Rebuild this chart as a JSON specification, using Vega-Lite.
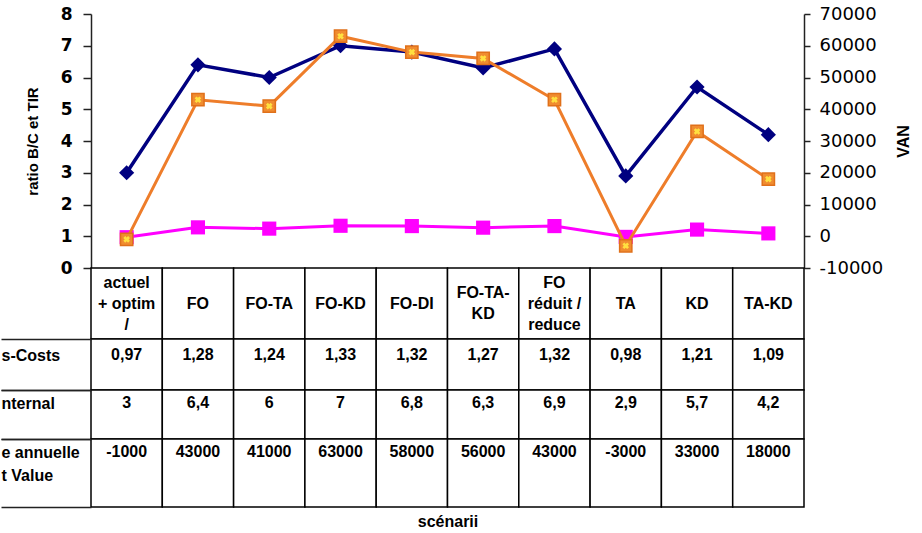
{
  "$schema": "https://vega.github.io/schema/vega-lite/v6.json",
  "padding": {"left": 0, "top": 5, "right": 0, "bottom": 0},
  "data": {"values": [
    {"scenario": "actuel\n+ optim\n/", "bc": 0.97, "tir": 3, "van": -1000},
    {"scenario": "FO", "bc": 1.28, "tir": 6.4, "van": 43000},
    {"scenario": "FO-TA", "bc": 1.24, "tir": 6, "van": 41000},
    {"scenario": "FO-KD", "bc": 1.33, "tir": 7, "van": 63000},
    {"scenario": "FO-DI", "bc": 1.32, "tir": 6.8, "van": 58000},
    {"scenario": "FO-TA-\nKD", "bc": 1.27, "tir": 6.3, "van": 56000},
    {"scenario": "FO\nréduit /\nreduce", "bc": 1.32, "tir": 6.9, "van": 43000},
    {"scenario": "TA", "bc": 0.98, "tir": 2.9, "van": -3000},
    {"scenario": "KD", "bc": 1.21, "tir": 5.7, "van": 33000},
    {"scenario": "TA-KD", "bc": 1.09, "tir": 4.2, "van": 18000}
  ]},
  "spacing": 0,
  "bounds": "flush",
  "resolve": {"scale": {"x": "independent", "y": "independent"}},
  "vconcat": [
    {
      "width": 713,
      "height": 254,
      "encoding": {
        "x": {"field": "scenario", "type": "nominal", "sort": null, "scale": {"paddingInner": 0, "paddingOuter": 0}, "axis": null}
      },
      "layer": [
        {
          "layer": [
            {
              "mark": {"type": "line", "color": "#000080", "strokeWidth": 3.5},
              "encoding": {"y": {"field": "tir", "type": "quantitative", "scale": {"domain": [0, 8], "nice": false, "zero": false},
                "axis": {"orient": "left", "title": "ratio B/C et TIR", "values": [0,1,2,3,4,5,6,7,8], "tickSize": 8, "labelPadding": 11, "labelFont": "DejaVu Sans", "labelFontWeight": "bold", "labelFontSize": 17, "titleFont": "Liberation Sans", "titleFontWeight": "bold", "titleFontSize": 15, "titlePadding": 20, "domainWidth": 1.5, "tickWidth": 1.5}}}
            },
            {
              "mark": {"type": "point", "shape": "diamond", "filled": true, "color": "#000080", "size": 230, "opacity": 1},
              "encoding": {"y": {"field": "tir", "type": "quantitative", "scale": {"domain": [0, 8], "nice": false, "zero": false},
                "axis": {"orient": "left", "title": "ratio B/C et TIR", "values": [0,1,2,3,4,5,6,7,8], "tickSize": 8, "labelPadding": 11, "labelFont": "DejaVu Sans", "labelFontWeight": "bold", "labelFontSize": 17, "titleFont": "Liberation Sans", "titleFontWeight": "bold", "titleFontSize": 15, "titlePadding": 20, "domainWidth": 1.5, "tickWidth": 1.5}}}
            },
            {
              "mark": {"type": "line", "color": "#FF00FF", "strokeWidth": 3},
              "encoding": {"y": {"field": "bc", "type": "quantitative", "scale": {"domain": [0, 8], "nice": false, "zero": false},
                "axis": {"orient": "left", "title": "ratio B/C et TIR", "values": [0,1,2,3,4,5,6,7,8], "tickSize": 8, "labelPadding": 11, "labelFont": "DejaVu Sans", "labelFontWeight": "bold", "labelFontSize": 17, "titleFont": "Liberation Sans", "titleFontWeight": "bold", "titleFontSize": 15, "titlePadding": 20, "domainWidth": 1.5, "tickWidth": 1.5}}}
            },
            {
              "mark": {"type": "point", "shape": "square", "filled": true, "color": "#FF00FF", "size": 200, "opacity": 1},
              "encoding": {"y": {"field": "bc", "type": "quantitative", "scale": {"domain": [0, 8], "nice": false, "zero": false},
                "axis": {"orient": "left", "title": "ratio B/C et TIR", "values": [0,1,2,3,4,5,6,7,8], "tickSize": 8, "labelPadding": 11, "labelFont": "DejaVu Sans", "labelFontWeight": "bold", "labelFontSize": 17, "titleFont": "Liberation Sans", "titleFontWeight": "bold", "titleFontSize": 15, "titlePadding": 20, "domainWidth": 1.5, "tickWidth": 1.5}}}
            }
          ]
        },
        {
          "layer": [
            {
              "mark": {"type": "line", "color": "#EE7D2A", "strokeWidth": 3},
              "encoding": {"y": {"field": "van", "type": "quantitative", "scale": {"domain": [-10000, 70000], "nice": false, "zero": false},
                "axis": {"orient": "right", "title": "VAN", "titleAngle": -90, "values": [-10000,0,10000,20000,30000,40000,50000,60000,70000], "format": "d", "tickSize": 6, "labelPadding": 9, "labelFont": "DejaVu Sans", "labelFontSize": 18, "titleFont": "Liberation Sans", "titleFontWeight": "bold", "titleFontSize": 16, "titlePadding": 29, "domainWidth": 1.5, "tickWidth": 1.5}}}
            },
            {
              "mark": {"type": "point", "shape": "square", "filled": true, "color": "#F08C30", "stroke": "#E0701A", "strokeWidth": 1.5, "size": 150, "opacity": 1},
              "encoding": {"y": {"field": "van", "type": "quantitative", "scale": {"domain": [-10000, 70000], "nice": false, "zero": false},
                "axis": {"orient": "right", "title": "VAN", "titleAngle": -90, "values": [-10000,0,10000,20000,30000,40000,50000,60000,70000], "format": "d", "tickSize": 6, "labelPadding": 9, "labelFont": "DejaVu Sans", "labelFontSize": 18, "titleFont": "Liberation Sans", "titleFontWeight": "bold", "titleFontSize": 16, "titlePadding": 29, "domainWidth": 1.5, "tickWidth": 1.5}}}
            },
            {
              "mark": {"type": "point", "shape": "cross", "angle": 45, "filled": true, "color": "#FFE040", "size": 45, "opacity": 1},
              "encoding": {"y": {"field": "van", "type": "quantitative", "scale": {"domain": [-10000, 70000], "nice": false, "zero": false},
                "axis": {"orient": "right", "title": "VAN", "titleAngle": -90, "values": [-10000,0,10000,20000,30000,40000,50000,60000,70000], "format": "d", "tickSize": 6, "labelPadding": 9, "labelFont": "DejaVu Sans", "labelFontSize": 18, "titleFont": "Liberation Sans", "titleFontWeight": "bold", "titleFontSize": 16, "titlePadding": 29, "domainWidth": 1.5, "tickWidth": 1.5}}}
            }
          ]
        }
      ],
      "resolve": {"scale": {"y": "independent"}}
    },
    {
      "width": 713,
      "height": 71,
      "encoding": {
        "x": {"field": "scenario", "type": "nominal", "sort": null, "scale": {"paddingInner": 0, "paddingOuter": 0}, "axis": null},
        "y": {"datum": "h", "type": "nominal", "scale": {"paddingInner": 0, "paddingOuter": 0}, "axis": null}
      },
      "layer": [
        {"mark": {"type": "rect", "fill": "white", "stroke": "black", "strokeWidth": 1.5}},
        {"transform": [{"filter": {"not": {"field": "scenario", "oneOf": ["actuel\n+ optim\n/", "FO-TA-\nKD", "FO\nréduit /\nreduce"]}}}],
         "mark": {"type": "text", "font": "Liberation Sans", "fontWeight": "bold", "fontSize": 16, "color": "black"},
         "encoding": {"text": {"field": "scenario", "type": "nominal"}}},
        {"transform": [{"filter": {"field": "scenario", "equal": "FO-TA-\nKD"}}],
         "mark": {"type": "text", "lineBreak": "\n", "lineHeight": 21, "dy": -11, "font": "Liberation Sans", "fontWeight": "bold", "fontSize": 16, "color": "black"},
         "encoding": {"text": {"field": "scenario", "type": "nominal"}}},
        {"transform": [{"filter": {"field": "scenario", "oneOf": ["actuel\n+ optim\n/", "FO\nréduit /\nreduce"]}}],
         "mark": {"type": "text", "lineBreak": "\n", "lineHeight": 21, "dy": -21, "font": "Liberation Sans", "fontWeight": "bold", "fontSize": 16, "color": "black"},
         "encoding": {"text": {"field": "scenario", "type": "nominal"}}}
      ]
    },
    {
      "width": 713,
      "height": 51,
      "encoding": {
        "x": {"field": "scenario", "type": "nominal", "sort": null, "scale": {"paddingInner": 0, "paddingOuter": 0}, "axis": null},
        "y": {"datum": "s-Costs", "type": "nominal", "scale": {"paddingInner": 0, "paddingOuter": 0},
          "axis": {"title": null, "domain": false, "tickBand": "extent", "tickSize": 90, "tickWidth": 1.5, "labelAlign": "left", "labelPadding": 0, "labelOffset": -9.5, "labelFont": "Liberation Sans", "labelFontWeight": "bold", "labelFontSize": 16}}
      },
      "layer": [
        {"mark": {"type": "rect", "fill": "white", "stroke": "black", "strokeWidth": 1.5}},
        {"mark": {"type": "text", "dy": -9.5, "font": "Liberation Sans", "fontWeight": "bold", "fontSize": 16, "color": "black"},
         "encoding": {"text": {"field": "bc", "type": "quantitative", "format": ".2f"}}}
      ]
    },
    {
      "width": 713,
      "height": 49,
      "encoding": {
        "x": {"field": "scenario", "type": "nominal", "sort": null, "scale": {"paddingInner": 0, "paddingOuter": 0}, "axis": null},
        "y": {"datum": "nternal", "type": "nominal", "scale": {"paddingInner": 0, "paddingOuter": 0},
          "axis": {"title": null, "domain": false, "tickBand": "extent", "tickSize": 90, "tickWidth": 1.5, "labelAlign": "left", "labelPadding": 0, "labelOffset": -11.5, "labelFont": "Liberation Sans", "labelFontWeight": "bold", "labelFontSize": 16}}
      },
      "layer": [
        {"mark": {"type": "rect", "fill": "white", "stroke": "black", "strokeWidth": 1.5}},
        {"mark": {"type": "text", "dy": -11.5, "font": "Liberation Sans", "fontWeight": "bold", "fontSize": 16, "color": "black"},
         "encoding": {"text": {"field": "tir", "type": "quantitative", "format": ".2~r"}}}
      ]
    },
    {
      "width": 713,
      "height": 68,
      "encoding": {
        "x": {"field": "scenario", "type": "nominal", "sort": null, "scale": {"paddingInner": 0, "paddingOuter": 0},
          "axis": {"title": "scénarii", "labels": false, "ticks": false, "domain": false, "titleFont": "Liberation Sans", "titleFontWeight": "bold", "titleFontSize": 16, "titlePadding": 6}},
        "y": {"datum": "e annuelle|t Value", "type": "nominal", "scale": {"paddingInner": 0, "paddingOuter": 0},
          "axis": {"title": null, "domain": false, "tickBand": "extent", "tickSize": 90, "tickWidth": 1.5, "labelAlign": "left", "labelPadding": 0, "labelOffset": -21, "labelLineHeight": 23, "labelExpr": "datum.value ? split(datum.value, '|') : ''", "labelFont": "Liberation Sans", "labelFontWeight": "bold", "labelFontSize": 16}}
      },
      "layer": [
        {"mark": {"type": "rect", "fill": "white", "stroke": "black", "strokeWidth": 1.5}},
        {"mark": {"type": "text", "dy": -21, "font": "Liberation Sans", "fontWeight": "bold", "fontSize": 16, "color": "black"},
         "encoding": {"text": {"field": "van", "type": "quantitative", "format": "d"}}}
      ]
    }
  ],
  "config": {
    "font": "Liberation Sans",
    "view": {"stroke": null},
    "locale": {"number": {"decimal": ",", "thousands": " ", "grouping": [3], "currency": ["", ""], "minus": "-"}},
    "axis": {"grid": false, "domainColor": "#222222", "tickColor": "#222222", "labelColor": "black", "titleColor": "black"}
  }
}
